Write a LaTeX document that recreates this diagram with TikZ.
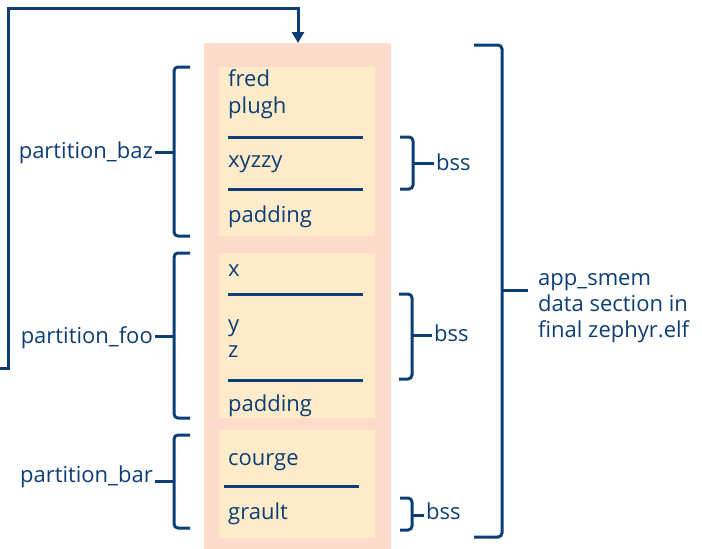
\documentclass[tikz,border=0pt]{standalone}
\usepackage{fontspec}
\setmainfont{Open Sans}
\usetikzlibrary{positioning}
\usetikzlibrary{arrows.meta}
\definecolor{navy}{RGB}{12,62,117}
\definecolor{salmon}{RGB}{253,220,204}
\definecolor{cream}{RGB}{254,235,201}

\begin{document}
\begin{tikzpicture}[x=1pt, y=-1pt, font=\fontsize{22}{26}\selectfont, text=navy,
	outer/.style={rectangle,fill=salmon,anchor=north west,inner sep=0},
	part/.style={rectangle,fill=cream,anchor=north west,inner sep=0,minimum width=156pt},
	item/.style={anchor=base west,inner sep=0},
	lab/.style={anchor=base east,inner sep=2pt},
	rlab/.style={anchor=base west,inner sep=2pt},
	sep/.style={draw=navy,line width=3pt},
	brace/.style={draw=navy,line width=3pt,rounded corners=4pt}]
	\useasboundingbox (0,0) rectangle (702,549);
	% memory region and the three partitions
	\node[outer,minimum width=187pt,minimum height=510pt](smem) at (204,43){};
	\node[part,minimum height=169pt](pbaz) at (219,67){};
	\node[part,minimum height=165pt](pfoo) at (219,253){};
	\node[part,minimum height=108pt](pbar) at (219,430){};
	% partition_baz
	\node[item](fred) at (228,86){fred};
	\node[item](plugh) at (228,113){plugh};
	\node[item](xyzzy) at (228,167){xyzzy};
	\node[item](padbaz) at (228,222){padding};
	\draw[sep] (228,137) -- (363,137);
	\draw[sep] (228,189) -- (363,189);
	% partition_foo
	\node[item](x) at (228,276){x};
	\node[item](y) at (228,331){y};
	\node[item](z) at (228,357){z};
	\node[item](padfoo) at (228,411){padding};
	\draw[sep] (228,294) -- (363,294);
	\draw[sep] (228,380) -- (363,380);
	% partition_bar
	\node[item](courge) at (228,465){courge};
	\node[item](grault) at (228,519){grault};
	\draw[sep] (224,486) -- (359,486);
	% partition labels and their braces
	\node[lab](lbaz) at (155,158){partition\_baz};
	\node[lab](lfoo) at (155,343){partition\_foo};
	\node[lab](lbar) at (155,482){partition\_bar};
	\coordinate(tbaz) at (174,152);
	\coordinate(tfoo) at (174,336);
	\coordinate(tbar) at (174,481);
	\draw[brace] (190,67) -- (174,67) -- (174,236) -- (190,236);
	\draw[brace] (tbaz) -- (tbaz -| lbaz.east);
	\draw[brace] (190,253) -- (174,253) -- (174,418) -- (190,418);
	\draw[brace] (tfoo) -- (tfoo -| lfoo.east);
	\draw[brace] (190,435) -- (174,435) -- (174,528) -- (190,528);
	\draw[brace] (tbar) -- (tbar -| lbar.east);
	% bss braces
	\node[rlab](bssbaz) at (434,170){bss};
	\node[rlab](bssfoo) at (432,341){bss};
	\node[rlab](bssbar) at (424,519){bss};
	\coordinate(sbaz) at (413,163);
	\coordinate(sfoo) at (412,335);
	\coordinate(sbar) at (412,515);
	\draw[brace] (400,137) -- (413,137) -- (413,189) -- (400,189);
	\draw[brace] (sbaz) -- (sbaz -| bssbaz.west);
	\draw[brace] (399,294) -- (412,294) -- (412,379) -- (399,379);
	\draw[brace] (sfoo) -- (sfoo -| bssfoo.west);
	\draw[brace] (400,498) -- (412,498) -- (412,530) -- (400,530);
	\draw[brace] (sbar) -- (sbar -| bssbar.west);
	% whole section
	\node[anchor=west,align=left,inner sep=0](app) at (538,308){app\_smem\\data section in\\final zephyr.elf};
	\coordinate(tapp) at (502,290);
	\draw[brace] (474,45) -- (502,45) -- (502,537) -- (474,537);
	\draw[brace] (tapp) -- (528,290);
	% loop back to the start of the region
	\coordinate(loop) at (0,368);
	\coordinate(top) at (298,8);
	\draw[navy,line width=3pt,-{Triangle[length=11pt,width=12pt]}] (loop) -- (8,368) -- (8,8) -- (top) -- (top |- smem.north);
\end{tikzpicture}
\end{document}
